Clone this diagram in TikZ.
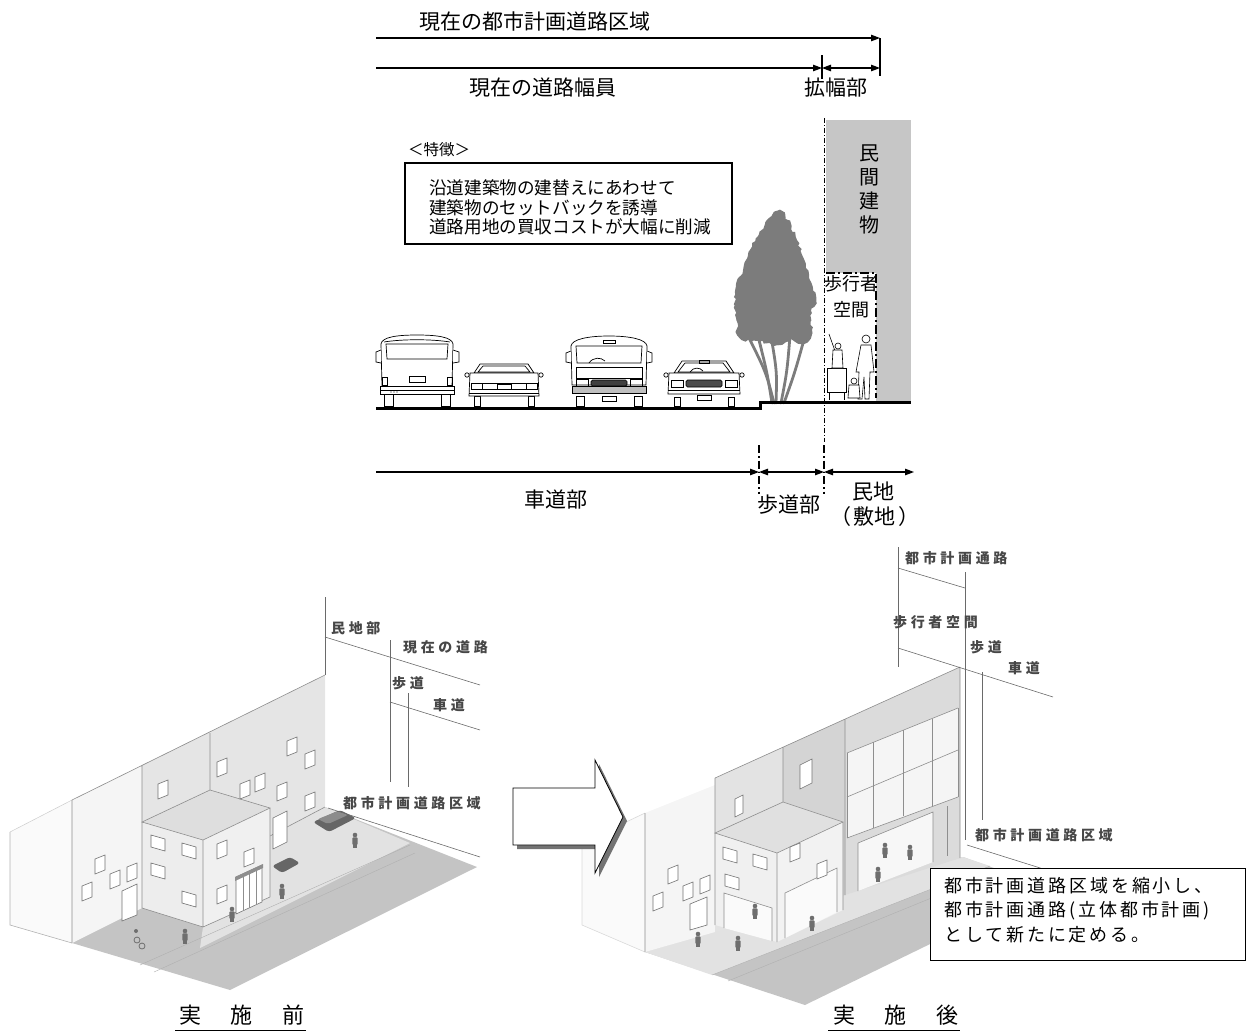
\documentclass[tikz,border=0pt]{standalone}
\usepackage{fontspec}
\usetikzlibrary{arrows.meta,decorations.pathmorphing}
\newfontfamily\jp{Noto Sans CJK JP}
\newfontfamily\jpwide[LetterSpace=26]{Noto Sans CJK JP}
\newfontfamily\jpnote[LetterSpace=16]{Noto Sans CJK JP}
\newfontfamily\jpcap[LetterSpace=18]{Noto Sans CJK JP}

\definecolor{bldg}{HTML}{C6C6C6}
\definecolor{leaf}{HTML}{7C7C7C}
\definecolor{edge}{HTML}{8E8E8E}
\definecolor{dimgray}{HTML}{6A6A6A}
\definecolor{figure}{HTML}{6E6E6E}
\definecolor{groundc}{HTML}{C4C4C4}
\definecolor{walkc}{HTML}{E2E2E2}

\tikzset{
  dimtip/.tip={Triangle[length=9pt,width=6.5pt]},
  dimline/.style={line width=1.1pt},
  lbl/.style={font=\jp\fontsize{21}{24}\selectfont, inner sep=0pt},
  small/.style={font=\jp\fontsize{15.5}{18}\selectfont, inner sep=0pt},
  feat/.style={font=\jp\fontsize{17.6}{19.6}\selectfont, inner sep=0pt, anchor=west},
  isolbl/.style={font=\jpwide\bfseries\fontsize{14}{15}\selectfont, text=black!72, inner sep=0pt},
  notetxt/.style={font=\jpnote\fontsize{18}{22}\selectfont, inner sep=0pt, anchor=west},
  captxt/.style={font=\jpcap\fontsize{22}{24}\selectfont, inner sep=0pt},
  carln/.style={draw=black, line width=0.7pt},
  isoedge/.style={draw=edge, line width=0.6pt},
  isodim/.style={draw=dimgray, line width=0.6pt},
  win/.style={draw=edge!80!black, fill=white, line width=0.6pt},
  % window on a wall facing the street
  fwin/.pic={\draw[win] (-5,-6) -- (5,-10) -- (5,5) -- (-5,9) -- cycle;},
  % window on a side wall
  lwin/.pic={\draw[win] (-7,-8) -- (7,-4) -- (7,8) -- (-7,4) -- cycle;},
  walker/.pic={
    \fill[figure] (0,-13) circle (2.3);
    \fill[figure, rounded corners=1] (-2.7,-10.6) rectangle (2.7,-3);
    \fill[figure] (-2.1,-3.2) rectangle (-0.4,0);
    \fill[figure] (0.4,-3.2) rectangle (2.1,0);},
  % rear view of a van
  vanrear/.pic={
    \draw[carln,fill=white] (-33,-12) rectangle (-24,0);
    \draw[carln,fill=white] (24,-12) rectangle (33,0);
    \draw[carln,fill=white] (-35,-19) -- (-36,-62) .. controls (-35,-69) and (-20,-71) .. (0,-71)
      .. controls (20,-71) and (35,-69) .. (36,-62) -- (35,-19) -- cycle;
    \draw[carln] (-33,-64) .. controls (-15,-67) and (15,-67) .. (33,-64);
    \draw[carln] (-31,-62) -- (31,-62) -- (30,-47) -- (-30,-47) -- cycle;
    \draw[carln,fill=white] (-36,-56) -- (-41,-54) -- (-41,-44) -- (-36,-43);
    \draw[carln,fill=white] (36,-56) -- (42,-54) -- (42,-44) -- (36,-43);
    \draw[carln] (-8,-30) rectangle (8,-24);
    \draw[carln] (-35,-29) rectangle (-30,-21);
    \draw[carln] (30,-29) rectangle (35,-21);
    \draw[carln,fill=white] (-37,-20) rectangle (37,-12);
    \draw[carln] (-37,-16) -- (37,-16);
    \fill (-26,-14) circle (0.7) (-23,-14) circle (0.7) (-20,-14) circle (0.7);},
  % front view of a van
  vanfront/.pic={
    \draw[carln,fill=white] (-33,-10) rectangle (-25,0);
    \draw[carln,fill=white] (25,-10) rectangle (33,0);
    \draw[carln,fill=white] (-37,-21) -- (-38,-60) .. controls (-37,-67) and (-20,-70) .. (0,-70)
      .. controls (20,-70) and (37,-67) .. (38,-60) -- (37,-21) -- cycle;
    \draw[carln] (-6,-66) rectangle (6,-63);
    \draw[carln] (-33,-60) -- (33,-60) -- (32,-43) -- (-32,-43) -- cycle;
    \draw[carln] (-20,-43) .. controls (-16,-49) and (-8,-49) .. (-4,-45);
    \draw[carln,fill=white] (-38,-55) -- (-43,-53) -- (-43,-44) -- (-38,-43);
    \draw[carln,fill=white] (38,-55) -- (43,-53) -- (43,-44) -- (38,-43);
    \draw[carln] (-33,-39) rectangle (33,-28);
    \draw[carln] (-33,-27) rectangle (-21,-20);
    \draw[carln] (21,-27) rectangle (33,-20);
    \draw[carln,fill=black!75,rounded corners=1.5] (-18,-26) rectangle (18,-20);
    \draw[carln,fill=black!25] (-37,-20) rectangle (37,-13);
    \draw[carln,fill=white] (-7,-10) rectangle (7,-5);},
  % rear view of a sedan
  sedanrear/.pic={
    \draw[carln,fill=white] (-30,-10) rectangle (-24,0);
    \draw[carln,fill=white] (24,-10) rectangle (30,0);
    \draw[carln,fill=white] (-30,-33) -- (-24,-42) -- (24,-42) -- (30,-33) -- cycle;
    \draw[carln] (-26,-34) -- (-21,-40) -- (21,-40) -- (26,-34) -- cycle;
    \draw[carln,fill=white] (-34,-33) -- (34,-33) -- (35,-10) -- (-35,-10) -- cycle;
    \draw[carln,fill=white] (-37,-31) circle (2.2) (37,-31) circle (2.2);
    \draw[carln] (-33,-23) rectangle (-22,-17);
    \draw[carln] (22,-23) rectangle (33,-17);
    \draw[carln] (-22,-23) -- (22,-23) (-22,-17) -- (22,-17);
    \draw[carln,fill=white] (-7,-22) rectangle (7,-17);
    \draw[carln] (-35,-13) -- (35,-13);},
  % front view of a sedan
  sedanfront/.pic={
    \draw[carln,fill=white] (-30,-9) rectangle (-24,0);
    \draw[carln,fill=white] (24,-9) rectangle (30,0);
    \draw[carln,fill=white] (-30,-33) -- (-22,-45) -- (22,-45) -- (30,-33) -- cycle;
    \draw[carln] (-26,-34) -- (-19,-43) -- (19,-43) -- (26,-34) -- cycle;
    \draw[carln] (-5,-46) rectangle (5,-43);
    \draw[carln] (-14,-34) .. controls (-11,-39) and (-4,-39) .. (-1,-35);
    \draw[carln,fill=white] (-35,-33) -- (35,-33) -- (36,-12) -- (-36,-12) -- cycle;
    \draw[carln,fill=white] (-38,-31) circle (2.2) (38,-31) circle (2.2);
    \draw[carln] (-33,-26) rectangle (-21,-19);
    \draw[carln] (21,-26) rectangle (33,-19);
    \draw[carln,fill=black!70,rounded corners=1.5] (-18,-26) rectangle (18,-19);
    \draw[carln] (-36,-16) -- (36,-16);
    \draw[carln,fill=white] (-7,-11) rectangle (7,-6);}
}

\begin{document}
\begin{tikzpicture}[x=1pt,y=-1pt]
\useasboundingbox (0,0) rectangle (1254,1034);

% ---------------- cross section: dimension lines above ----------------
\node[lbl] (t1) at (535,22) {現在の都市計画道路区域};
\coordinate (a1s) at (376,38);
\coordinate (a1e) at (880,38);
\coordinate (k1b) at (880,76);
\draw[dimline,-dimtip] (a1s) -- (a1e);
\draw[dimline] (a1e) -- (k1b);

\coordinate (a2s) at (376,68);
\coordinate (a2m) at (822,68);
\coordinate (a2e) at (880,68);
\coordinate (k2t) at (822,55);
\coordinate (k2b) at (822,79);
\draw[dimline,-dimtip] (a2s) -- (a2m);
\draw[dimline,dimtip-dimtip] (a2m) -- (a2e);
\draw[dimline] (k2t) -- (k2b);
\node[lbl] (t2) at (543,88) {現在の道路幅員};
\node[lbl] (t3) at (836,88) {拡幅部};

% ---------------- feature box ----------------
\node[small, anchor=west] (ft) at (408,150) {＜特徴＞};
\draw[line width=1.6pt] (405,163) rectangle (732,244);
\node[feat] (f1) at (429,188) {沿道建築物の建替えにあわせて};
\node[feat] (f2) at (429,208) {建築物のセットバックを誘導};
\node[feat] (f3) at (429,227) {道路用地の買収コストが大幅に削減};

% ---------------- private building and pedestrian space ----------------
\fill[bldg] (826,120) rectangle (911,402);
\fill[white] (826,273) rectangle (876,402);
\node[lbl, font=\jp\fontsize{20}{24}\selectfont, align=center] (mk) at (869,189) {民\\間\\建\\物};
\node[lbl, font=\jp\fontsize{18}{26}\selectfont, align=center] (ps) at (851,297) {歩行者\\空間};
\draw[line width=2.4pt, dash pattern=on 9pt off 3pt on 2pt off 3pt] (826,273) -- (876,273) -- (876,398);
\draw[line width=0.8pt, dash pattern=on 5pt off 2pt on 1pt off 2pt] (824,118) -- (824,442);

% ---------------- tree ----------------
\foreach \a/\b/\c in {772/767/758, 776/777/771, 781/787/790, 784/795/805, 774/766/748}
  \draw[leaf, line width=2.8pt, line cap=round] (\a,403) .. controls (\b,372) .. (\c,336);
\fill[leaf, decorate, decoration={random steps, segment length=3pt, amplitude=1.6pt}]
  plot[smooth cycle, tension=0.6] coordinates {
  (778,211) (788,220) (797,240) (803,257) (810,280) (816,297) (812,313)
  (811,337) (800,344) (790,340) (777,345) (757,341) (740,338) (736,318)
  (735,292) (743,270) (750,250) (758,236) (767,220)};

% ---------------- vehicles ----------------
\pic at (417,406) {vanrear};
\pic at (504,406) {sedanrear};
\pic at (609,406) {vanfront};
\pic at (704,406) {sedanfront};

% ---------------- people on the walkway ----------------
\begin{scope}[line width=0.6pt]
  \draw[fill=white] (827,368) rectangle (846,392);
  \draw (829,392) -- (829,400) (844,392) -- (844,400);
  \draw[fill=white] (838,346) circle (3);
  \draw (835,351) -- (829,334);
  \draw[fill=white] (833,350) -- (842,350) -- (843,368) -- (832,368) -- cycle;
  \draw[fill=white] (866,339) circle (4);
  \draw[fill=white] (861,345) -- (871,345) -- (874,372) -- (870,372) -- (869,399) -- (865,399)
    -- (864,377) -- (862,399) -- (858,399) -- (859,372) -- (856,372) -- cycle;
  \draw[fill=white] (854,381) circle (3);
  \draw[fill=white] (849,385) -- (859,385) -- (860,398) -- (848,398) -- cycle;
\end{scope}

% ---------------- ground line ----------------
\draw[line width=3pt] (376,408) -- (760,408) -- (760,402) -- (911,402);

% ---------------- dimension lines below ----------------
\coordinate (b0) at (376,472);
\coordinate (b1) at (759,472);
\coordinate (b2) at (824,472);
\coordinate (b3) at (914,472);
\draw[dimline,-dimtip] (b0) -- (b1);
\draw[dimline,dimtip-dimtip] (b1) -- (b2);
\draw[dimline,dimtip-dimtip] (b2) -- (b3);
\draw[line width=1.6pt, dash pattern=on 8pt off 3pt on 1.5pt off 3pt] (759,445) -- (759,494);
\draw[line width=1.6pt, dash pattern=on 8pt off 3pt on 1.5pt off 3pt] (824,445) -- (824,494);
\node[lbl] (s1) at (556,500) {車道部};
\node[lbl] (s2) at (789,505) {歩道部};
\node[lbl] (s3) at (873,492) {民地};
\node[lbl] (s4) at (875,517) {（\hspace{3pt}敷地\hspace{3pt}）};

% ================= street before =================
% ground
\fill[groundc] (72,943) -- (325,807) -- (477,867) -- (230,990) -- cycle;
\fill[walkc] (203,927) -- (270,897) -- (270,836) -- (325,807) -- (410,843) -- (200,948) -- cycle;
\draw[edge!70] (140,965) -- (410,845);
\draw[edge!70] (154,972) -- (415,853);
% walls
\fill[black!2] (10,832) -- (72,800) -- (72,943) -- (10,925) -- cycle;
\draw[draw=black!30, line width=0.6pt] (10,832) -- (10,925) -- (72,943);
\fill[black!4] (72,800) -- (142,765) -- (142,908) -- (72,943) -- cycle;
\fill[black!10] (142,765) -- (325,675) -- (325,807) -- (142,908) -- cycle;
\draw[draw=black!20, line width=0.5pt] (10,832) -- (72,800);
\draw[isoedge] (72,800) -- (72,943) (142,765) -- (142,822) (210,733) -- (210,790)
  (72,800) -- (325,675);
\draw[isoedge] (270,836) -- (325,807);
% front block
\fill[black!13] (142,822) -- (210,790) -- (270,808) -- (203,840) -- cycle;
\fill[black!7] (142,822) -- (203,840) -- (203,927) -- (142,908) -- cycle;
\fill[black!6] (203,840) -- (270,808) -- (270,897) -- (203,927) -- cycle;
\draw[isoedge] (142,822) -- (210,790) -- (270,808) -- (203,840) -- cycle
  (142,822) -- (142,908) -- (203,927) -- (270,897) -- (270,808) (203,840) -- (203,927);
% windows and doors
\foreach \p in {(163,790),(222,768),(292,747),(310,760),(245,790),(260,783),(282,792),
                (310,802),(100,865),(115,880),(132,873),(87,892),(222,850),(222,895),(249,858)}
  \pic at \p {fwin};
\foreach \p in {(158,843),(189,851),(158,871),(189,899)} \pic at \p {lwin};
\draw[win] (236,877) -- (262,865) -- (262,902) -- (236,914) -- cycle;
\fill[edge] (235,877) -- (263,864) -- (263,868) -- (235,881) -- cycle;
\draw[isoedge] (243,874) -- (243,911) (249,871) -- (249,908) (256,868) -- (256,905);
\draw[win] (273,818) -- (287,811) -- (287,842) -- (273,849) -- cycle;
\draw[win] (122,891) -- (137,884) -- (137,915) -- (122,921) -- cycle;
% cars and people
\fill[black!60, rounded corners=3] (313,822) -- (340,810) -- (356,818) -- (329,832) -- cycle;
\fill[black!45, rounded corners=2] (318,819) -- (338,811) -- (348,815) -- (328,824) -- cycle;
\fill[black!60, rounded corners=3] (272,866) -- (290,857) -- (300,863) -- (282,873) -- cycle;
\foreach \p in {(185,944),(232,922),(282,899),(355,848)} \pic at \p {walker};
\draw[figure, line width=0.8pt] (137,940) circle (3) (142,946) circle (3);
\fill[figure] (136,931) circle (2);
% dimensions
\draw[isodim] (325,597) -- (325,675);
\draw[isodim] (325,637) -- (480,685);
\draw[isodim] (390,640) -- (390,782);
\draw[isodim] (408,693) -- (408,787);
\draw[isodim] (390,702) -- (480,730);
\draw[isodim] (328,808) -- (480,857);
\node[isolbl, anchor=west] (l1) at (331,628) {民地部};
\node[isolbl, anchor=west] (l2) at (403,647) {現在の道路};
\node[isolbl, anchor=west] (l3) at (392,683) {歩道};
\node[isolbl, anchor=west] (l4) at (433,705) {車道};
\node[isolbl, anchor=west] (l5) at (343,803) {都市計画道路区域};

% ================= street after =================
\fill[groundc] (645,952) -- (963,857) -- (1047,887) -- (805,1005) -- cycle;
\fill[walkc] (645,952) -- (963,857) -- (990,866) -- (712,975) -- cycle;
\draw[edge!70] (712,975) -- (990,866);
\draw[edge!70] (728,981) -- (1000,870);
% walls
\fill[black!2] (582,843) -- (645,813) -- (645,952) -- (582,925) -- cycle;
\draw[draw=black!15, line width=0.6pt] (582,843) -- (645,813) (582,843) -- (582,925) -- (645,952);
\fill[black!4] (645,813) -- (715,785) -- (715,932) -- (645,952) -- cycle;
\fill[black!11] (715,778) -- (783,747) -- (783,915) -- (715,932) -- cycle;
\fill[black!17] (783,747) -- (845,719) -- (845,895) -- (783,915) -- cycle;
\fill[black!14] (845,719) -- (960,667) -- (960,858) -- (845,895) -- cycle;
\draw[isoedge] (645,813) -- (645,952) (715,778) -- (715,833) (783,747) -- (783,802)
  (845,719) -- (845,895) (960,667) -- (960,858) (715,778) -- (960,667);
% glazed upper floors
\fill[black!4] (847,753) -- (958,708) -- (958,797) -- (847,838) -- cycle;
\draw[isoedge] (847,753) -- (958,708) (847,797) -- (958,750) (847,838) -- (958,797);
\foreach \x/\yt/\yb in {847/753/838, 873/742/828, 903/730/816, 932/719/806, 958/708/797}
  \draw[isoedge] (\x,\yt) -- (\x,\yb);
% open ground floor
\fill[black!3] (858,843) -- (933,812) -- (933,862) -- (858,891) -- cycle;
\draw[isoedge] (858,843) -- (933,812) -- (933,862) (858,843) -- (858,891);
\draw[isoedge] (947,806) -- (947,856);
% front block
\fill[black!12] (715,833) -- (783,802) -- (843,822) -- (777,853) -- cycle;
\fill[black!6] (715,833) -- (777,853) -- (777,942) -- (715,925) -- cycle;
\fill[black!5] (777,853) -- (843,822) -- (843,910) -- (777,942) -- cycle;
\draw[isoedge] (715,833) -- (783,802) -- (843,822) -- (777,853) -- cycle
  (715,833) -- (715,925) (777,853) -- (777,942) (843,822) -- (843,910);
\fill[black!2] (724,893) -- (772,908) -- (772,941) -- (724,928) -- cycle;
\draw[isoedge] (724,928) -- (724,893) -- (772,908) -- (772,941);
\fill[black!2] (785,893) -- (837,868) -- (837,912) -- (785,938) -- cycle;
\draw[isoedge] (785,938) -- (785,893) -- (837,868) -- (837,912);
\foreach \p in {(673,875),(658,902),(688,892),(705,885),(795,853),(822,870)}
  \pic at \p {fwin};
\foreach \p in {(730,855),(760,862),(732,882)} \pic at \p {lwin};
\draw[win] (735,799) -- (743,795) -- (743,813) -- (735,817) -- cycle;
\draw[win] (800,765) -- (812,759) -- (812,783) -- (800,789) -- cycle;
\draw[win] (690,904) -- (707,897) -- (707,925) -- (690,930) -- cycle;
% people
\foreach \p in {(885,858),(910,860),(878,882),(755,919),(812,931),(698,947),(738,951)}
  \pic at \p {walker};
% dimensions
\draw[isodim] (898,547) -- (898,667);
\draw[isodim] (898,568) -- (965,588);
\draw[isodim] (965,572) -- (965,840);
\draw[isodim] (898,648) -- (1053,697);
\draw[isodim] (982,672) -- (982,820);
\draw[isodim] (967,845) -- (1053,872);
\node[isolbl, anchor=west] (r1) at (905,558) {都市計画通路};
\node[isolbl, anchor=west] (r2) at (893,622) {歩行者空間};
\node[isolbl, anchor=west] (r3) at (970,647) {歩道};
\node[isolbl, anchor=west] (r4) at (1008,668) {車道};
\node[isolbl, anchor=west] (r5) at (975,835) {都市計画道路区域};

% ================= arrow between the two views =================
\fill[black!55] (517,792) -- (599,792) -- (599,764) -- (627,821) -- (599,877) -- (599,849) -- (517,849) -- cycle;
\draw[fill=white, line width=0.8pt] (513,788) -- (595,788) -- (595,760) -- (623,817) -- (595,873) -- (595,845) -- (513,845) -- cycle;

% note box
\draw[fill=white, line width=0.9pt] (930,868) rectangle (1245,960);
\node[notetxt] (n1) at (944,886) {都市計画道路区域を縮小し、};
\node[notetxt] (n2) at (944,911) {都市計画通路(立体都市計画)};
\node[notetxt] (n3) at (944,935) {として新たに定める。};

% captions
\node[captxt] (c1) at (242,1015) {実　施　前};
\node[captxt] (c2) at (896,1015) {実　施　後};
\draw[line width=1pt] (175,1030) -- (306,1030);
\draw[line width=1pt] (828,1030) -- (960,1030);
\end{tikzpicture}
\end{document}
